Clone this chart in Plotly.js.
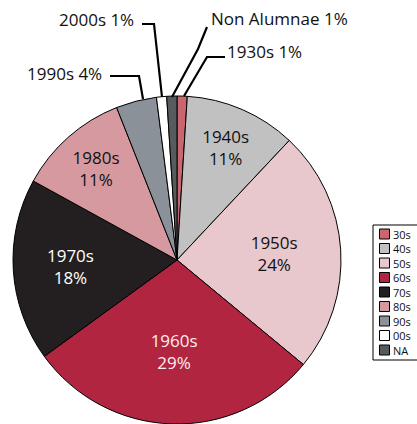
<!DOCTYPE html>
<html><head><meta charset="utf-8">
<script src="https://cdn.plot.ly/plotly-3.0.1.min.js"></script>
<style>html,body{margin:0;padding:0;overflow:hidden;background:#fff}</style>
</head><body><div id="chart" style="width:417px;height:424px"></div>
<script>
// Data
const legendLabels = ['30s','40s','50s','60s','70s','80s','90s','00s','NA'];
const sliceNames = ['1930s','1940s','1950s','1960s','1970s','1980s','1990s','2000s','Non Alumnae'];
const percents = [1, 11, 24, 29, 18, 11, 4, 1, 1];
const colors = ['#c9666f','#c1c1c1','#e8c8cd','#b22541','#231f20','#d6999f','#8b9199','#ffffff','#565b5e'];
const textColors = ['#111','#111','#111','#fbeef0','#ffffff','#111','#111','#111','#111'];

const W = 417, H = 424;
const px = x => x / W, py = y => 1 - y / H;
const FONT = '"Open Sans", Lato, sans-serif';

const insideText = percents.map((p, i) => p >= 5 ? sliceNames[i] + '<br>' + p + '%' : '');

const trace = {
  type: 'pie',
  values: percents,
  labels: legendLabels,
  text: insideText,
  textinfo: 'text',
  textposition: 'inside',
  insidetextorientation: 'horizontal',
  insidetextfont: {family: FONT, size: 17, weight: 400, color: textColors},
  sort: false,
  direction: 'clockwise',
  rotation: 0,
  marker: {colors: colors, line: {color: '#000', width: 1}},
  domain: {x: [px(10), px(344)], y: [py(424), py(96)]},
  hoverinfo: 'none',
  showlegend: false
};

// Outside labels for small slices (layout positions)
const outside = [
  {i: 6, x: 104, y: 73, anchor: 'right', path: [[110,76],[139,76],[143,99]]},
  {i: 7, x: 136, y: 20, anchor: 'right', path: [[142,24],[154,24],[162,97]]},
  {i: 8, x: 209, y: 19, anchor: 'left', path: [[207,27],[198,49],[172,97]]},
  {i: 0, x: 225, y: 52, anchor: 'left', path: [[225,57],[207,57],[184,96]]}
];

const annotations = [];
const shapes = [];
outside.forEach(o => {
  annotations.push({
    xref: 'paper', yref: 'paper', x: px(o.x), y: py(o.y),
    xanchor: o.anchor, yanchor: 'middle', showarrow: false,
    text: sliceNames[o.i] + ' ' + percents[o.i] + '%',
    font: {family: FONT, size: 17, weight: 400, color: '#111'}
  });
  const d = o.path.map((p, k) => (k ? 'L' : 'M') + px(p[0]) + ',' + py(p[1])).join(' ');
  shapes.push({type: 'path', xref: 'paper', yref: 'paper', path: d, line: {color: '#000', width: 2.2}});
});

// Custom legend
const L = {x0: 373, y0: 225, x1: 420, y1: 360, rowStart: 234, rowGap: 14.5};
shapes.push({type: 'rect', xref: 'paper', yref: 'paper', x0: px(L.x0), x1: px(L.x1), y0: py(L.y1), y1: py(L.y0),
  line: {color: '#000', width: 1}, fillcolor: '#fff'});
legendLabels.forEach((lab, i) => {
  const cy = L.rowStart + i * L.rowGap;
  shapes.push({type: 'rect', xref: 'paper', yref: 'paper', x0: px(379.5), x1: px(389.5), y0: py(cy + 5), y1: py(cy - 5),
    line: {color: '#000', width: 1}, fillcolor: colors[i]});
  annotations.push({xref: 'paper', yref: 'paper', x: px(391), y: py(cy), xanchor: 'left', yanchor: 'middle',
    showarrow: false, text: lab, font: {family: FONT, size: 11, weight: 400, color: '#111'}});
});

const layout = {
  width: W, height: H,
  margin: {l: 0, r: 0, t: 0, b: 0},
  paper_bgcolor: '#fff',
  showlegend: false,
  annotations: annotations,
  shapes: shapes
};

Plotly.newPlot('chart', [trace], layout, {staticPlot: true, displayModeBar: false});
</script>
</body></html>
